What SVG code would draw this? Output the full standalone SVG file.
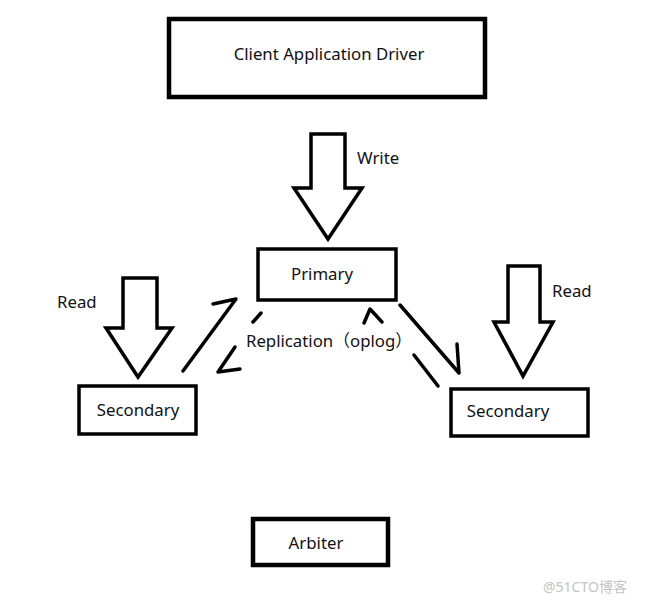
<svg xmlns="http://www.w3.org/2000/svg" width="652" height="603" viewBox="0 0 652 603">
<style>
.box{fill:#fff;stroke:#000;stroke-width:3.5}
.thick{stroke-width:4.5}
.arrow{fill:#fff;stroke:#000;stroke-width:3.5;stroke-linejoin:miter}
.line{fill:none;stroke:#000;stroke-width:3.5;stroke-linecap:round;stroke-linejoin:round}
text{font-family:"Noto Sans","Open Sans","Noto Sans CJK SC",sans-serif;font-size:16.8px;fill:#111}
.c{text-anchor:middle}
.wm{font-size:14px;fill:#c4c4c4}
</style>
<rect width="652" height="603" fill="#fff"/>
<g id="client">
<rect class="box thick" x="169" y="19" width="316" height="78"/>
<text class="c" x="329" y="60">Client Application Driver</text>
</g>
<g id="write">
<polygon class="arrow" points="311,134 345,134 345,188 362,188 328,239 294,188 311,188"/>
<text x="357" y="164">Write</text>
</g>
<g id="primary">
<rect class="box" x="258" y="249" width="138" height="51"/>
<text class="c" x="322" y="280">Primary</text>
</g>
<g id="readLeft">
<polygon class="arrow" points="123,278 157,278 157,328 172,328 138,377 106,328 123,328"/>
<text x="57" y="308">Read</text>
</g>
<g id="secondaryLeft">
<rect class="box" x="79" y="386" width="117" height="48"/>
<text class="c" x="138" y="416">Secondary</text>
</g>
<g id="readRight">
<polygon class="arrow" points="508,266 540,266 540,322 553,322 523,376 494,322 508,322"/>
<text x="552" y="297">Read</text>
</g>
<g id="secondaryRight">
<rect class="box" x="451" y="389" width="137" height="47"/>
<text class="c" x="508" y="417">Secondary</text>
</g>
<g id="arbiter">
<rect class="box thick" x="253" y="519" width="135" height="46"/>
<text class="c" x="316" y="549">Arbiter</text>
</g>
<g id="connectors">
<polyline class="line" points="183,371 236,299 213,304"/>
<line class="line" x1="261" y1="313" x2="253" y2="322"/>
<polyline class="line" points="235,347 218,372 240,369"/>
<polyline class="line" points="400,305 459,373 457,344"/>
<polyline class="line" points="364,323 370,309 382,322"/>
<line class="line" x1="414" y1="355" x2="438" y2="386"/>
</g>
<text x="329" y="347" class="c">Replication（oplog）</text>
<text class="wm" x="543" y="592">@51CTO博客</text>
</svg>
